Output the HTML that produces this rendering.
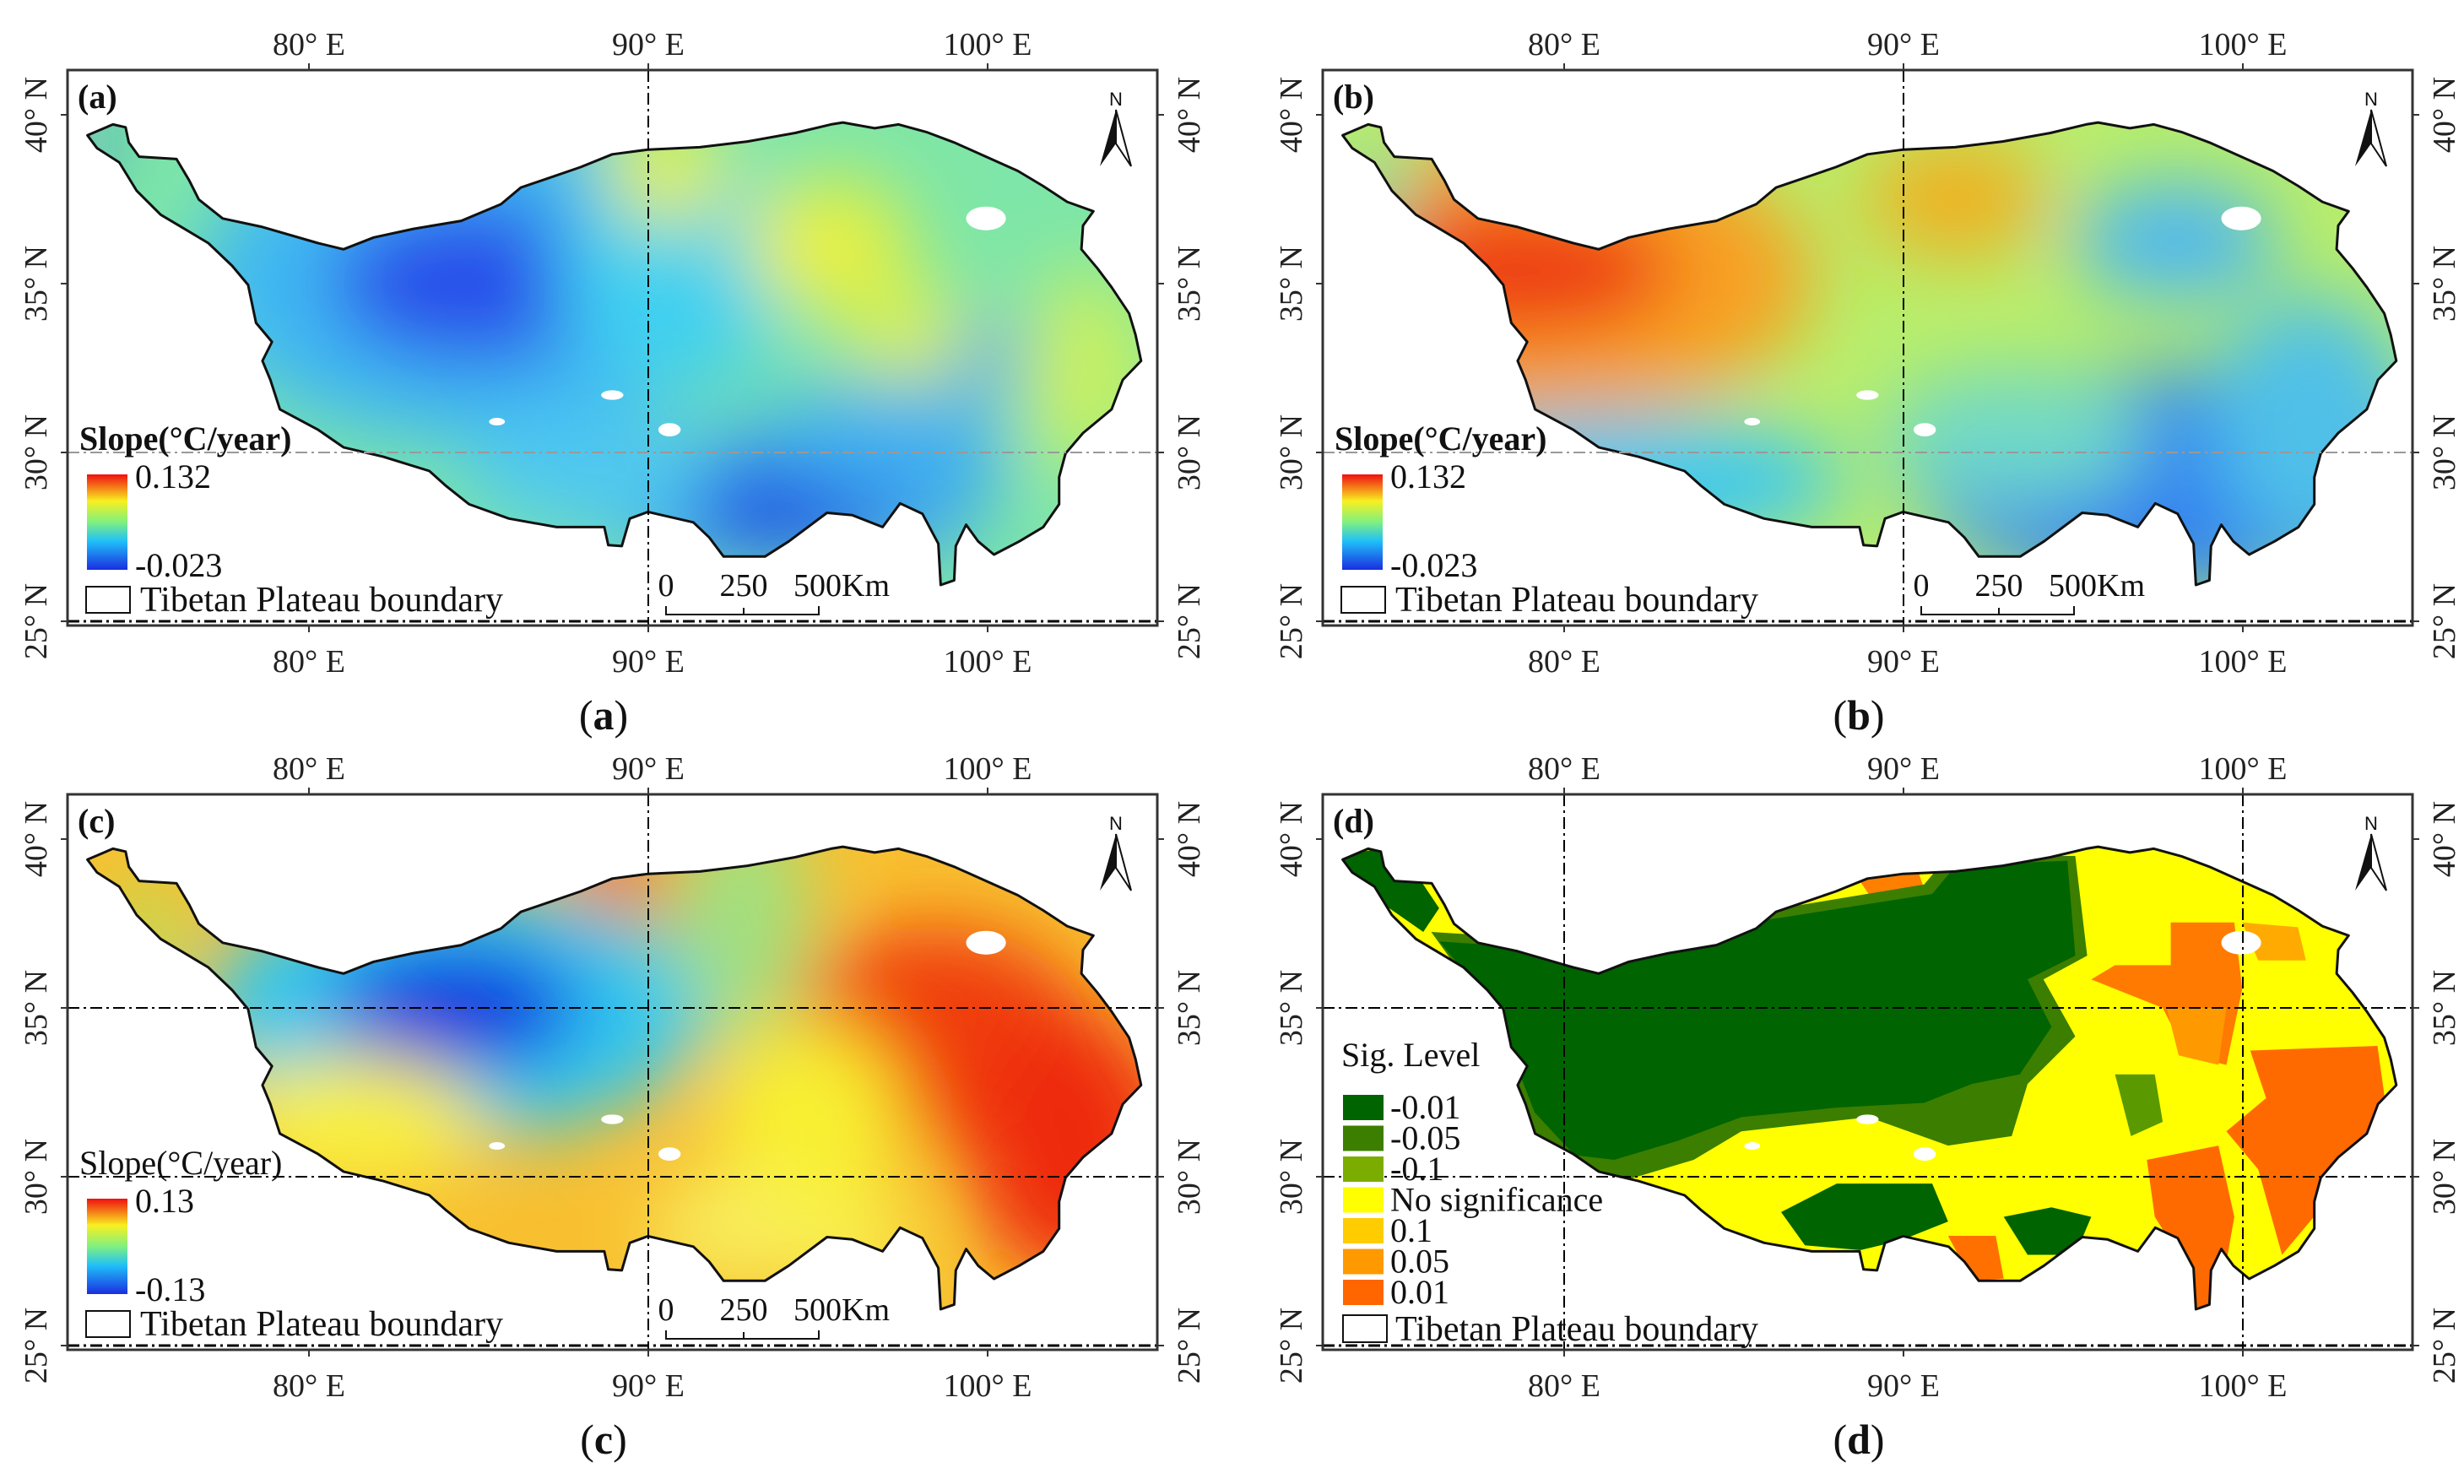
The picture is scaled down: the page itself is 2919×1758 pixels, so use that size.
<!DOCTYPE html>
<html><head><meta charset="utf-8"><style>
html,body{margin:0;padding:0;background:#fff;}
svg{display:block;font-family:"Liberation Serif",serif;}
</style></head><body>
<svg id="fig" width="2919" height="1758" viewBox="0 0 2919 1758" xmlns="http://www.w3.org/2000/svg">
<defs>
<filter id="blur" x="-50%" y="-50%" width="200%" height="200%"><feGaussianBlur stdDeviation="45"/></filter>
<linearGradient id="jet1" x1="0" y1="1" x2="0" y2="0">
<stop offset="0" stop-color="#1a2ee0"/><stop offset="0.3" stop-color="#20c0f8"/><stop offset="0.5" stop-color="#80f080"/><stop offset="0.72" stop-color="#f8f020"/><stop offset="1" stop-color="#f01010"/></linearGradient>
</defs>
</svg>
<script>
const NS="http://www.w3.org/2000/svg";
const svg=document.getElementById('fig');
function mk(tag,attrs,parent){const e=document.createElementNS(NS,tag);for(const k in attrs)e.setAttribute(k,attrs[k]);(parent||svg).appendChild(e);return e;}

const boundaryZ=[[110,285],[142,262],[158,268],[162,300],[175,330],[222,335],[238,380],[250,420],[280,460],[330,478],[400,512],[432,525],[470,500],[520,482],[580,465],[630,430],[655,395],[690,375],[730,352],[770,325],[815,315],[880,310],[940,298],[1000,280],[1045,262],[1060,258],[1100,270],[1130,262],[1165,278],[1200,300],[1240,330],[1280,360],[1312,392],[1342,425],[1375,445],[1362,475],[1360,525],[1380,565],[1398,605],[1420,660],[1428,705],[1435,760],[1412,800],[1398,862],[1362,912],[1340,955],[1332,1005],[1332,1062],[1312,1110],[1282,1140],[1250,1168],[1230,1140],[1215,1105],[1202,1150],[1200,1222],[1183,1232],[1180,1145],[1160,1082],[1132,1060],[1110,1110],[1072,1085],[1040,1080],[992,1140],[962,1172],[910,1172],[892,1132],[872,1100],[815,1078],[792,1092],[782,1150],[765,1148],[760,1110],[700,1110],[640,1092],[590,1062],[560,1022],[540,992],[482,962],[432,942],[400,905],[352,862],[340,800],[330,760],[342,720],[322,680],[312,600],[292,560],[262,512],[232,482],[202,452],[172,402],[150,342],[122,312]];
const pts=boundaryZ.map(p=>[p[0]*0.942,p[1]*0.5625]);
const ptsStr=pts.map(p=>p[0].toFixed(1)+','+p[1].toFixed(1)).join(' ');

const lonTicks=[80,90,100];
const latTicks=[40,35,30,25];
const X=lon=>768+(lon-90)*40.2;
const Y=lat=>136+(40-lat)*40;
const FL=80,FT=83,FR=1371,FB=741;

const panels=[
 {id:'a',dx:0,dy:0,base:'#7ee6a8',blobs:[[560,335,330,190,'#40b8f2'],[560,335,170,95,'#2a50ea'],[930,590,250,90,'#40a8f0'],[930,600,140,50,'#1e3ce0'],[800,320,140,140,'#40d0f0'],[790,200,70,70,'#e4f040'],[980,290,100,80,'#e8f040'],[1080,400,80,60,'#d8f050'],[1285,440,80,120,'#c8f060'],[1173,420,40,40,'#3c98f0'],[105,170,25,25,'#2040e0'],[700,560,150,70,'#50c8f0'],[1050,520,150,70,'#40b0f0']],grids:{v:[90],h:[[30,'#999'],[25,'#000']]},legend:'slope',lo:'-0.023',hi:'0.132',bold:true,scale:true},
 {id:'b',dx:1487,dy:0,base:'#b8ee6a',blobs:[[330,330,330,170,'#f8a020'],[310,320,190,80,'#ee3a18'],[830,235,110,70,'#f0b020'],[1090,285,120,70,'#50b8f0'],[1100,570,320,130,'#3080f0'],[420,570,280,80,'#40c8f0'],[900,520,160,80,'#70d8c8'],[1250,500,120,150,'#50c0e8'],[140,230,50,50,'#70e0b0']],grids:{v:[90],h:[[30,'#999'],[25,'#000']]},legend:'slope',lo:'-0.023',hi:'0.132',bold:true,scale:true},
 {id:'c',dx:0,dy:858,base:'#f8c030',blobs:[[540,340,300,150,'#30c8f0'],[540,335,150,75,'#1030e0'],[880,230,80,140,'#a0e080'],[735,175,60,50,'#f07020'],[1110,370,180,130,'#f03e10'],[1270,500,120,160,'#ee2a10'],[960,470,110,120,'#f8f030'],[420,470,150,80,'#f8f040'],[1000,620,80,60,'#f8f050'],[860,600,90,60,'#f8f060'],[170,260,40,80,'#b0e060']],grids:{v:[90],h:[[35,'#000'],[30,'#000'],[25,'#000']]},legend:'slope',lo:'-0.13',hi:'0.13',bold:false,scale:true},
 {id:'d',dx:1487,dy:858,cat:true,grids:{v:[80,100],h:[[35,'#000'],[30,'#000'],[25,'#000']]},legend:'sig'}
];

const sigLabels=['-0.01','-0.05','-0.1','No significance','0.1','0.05','0.01'];
const sigColors=['#006400','#3c7e00','#7aad00','#ffff00','#ffcc00','#ff9900','#ff6600'];

panels.forEach(P=>{
 const g=mk('g',{transform:`translate(${P.dx},${P.dy})`});
 
 
 const cp=mk('clipPath',{id:'clip'+P.id},g);
 mk('polygon',{points:ptsStr},cp);
 const map=mk('g',{'clip-path':`url(#clip${P.id})`},g);
 
 
 if(!P.cat){
  mk('rect',{x:0,y:0,width:1450,height:800,fill:P.base},map);
  const bg=mk('g',{filter:'url(#blur)'},map);
  P.blobs.forEach(b=>mk('ellipse',{cx:b[0],cy:b[1],rx:b[2],ry:b[3],fill:b[4]},bg));
 }else{
  const T=(zx,zy)=>[zx*0.942-27,zy*0.5625+21];
  const poly=(arr,fill)=>mk('polygon',{points:arr.map(p=>T(p[0],p[1]).map(v=>v.toFixed(1)).join(',')).join(' '),fill:fill},map);
  mk('rect',{x:0,y:0,width:1450,height:800,fill:'#ffff00'},map);
  poly([[1180,380],[1260,380],[1270,520],[1250,680],[1200,660],[1170,560],[1080,500],[1110,470],[1180,470]],'#ff7a00');
  poly([[1175,560],[1250,560],[1240,680],[1190,660]],'#ff9900');
  poly([[1280,650],[1440,640],[1450,760],[1400,900],[1360,1000],[1320,1080],[1290,900],[1250,820],[1300,750]],'#ff6a00');
  poly([[1150,880],[1240,850],[1260,1000],[1240,1190],[1200,1190],[1190,1080],[1160,1000]],'#ff6a00');
  poly([[900,1040],[960,1040],[970,1130],[930,1135]],'#ff7000');
  poly([[780,270],[860,260],[870,310],[800,320]],'#ff8000');
  poly([[1270,380],[1340,390],[1350,460],[1290,460]],'#ffaa00');
  poly([[250,400],[440,420],[560,380],[690,350],[870,300],[900,240],[1060,240],[1075,450],[1020,500],[1060,620],[1000,720],[980,830],[900,850],[800,790],[640,820],[580,880],[500,920],[440,920],[380,820],[330,660],[310,540]],'#3c7e00');
  poly([[260,420],[440,440],[560,400],[690,370],[880,320],[910,260],[1050,250],[1060,450],[1000,500],[1030,600],[990,700],[930,720],[870,760],[760,770],[640,790],[560,840],[480,880],[430,870],[380,780],[350,650],[330,560],[290,480]],'#006400');
  poly([[130,240],[185,225],[200,250],[240,300],[260,350],[240,400],[180,330],[150,280]],'#006400');
  poly([[690,990],[760,930],[880,930],[900,1010],[840,1050],[790,1070],[720,1060]],'#006400');
  poly([[970,1000],[1030,980],[1080,1000],[1060,1080],[1000,1080]],'#006400');
  poly([[1110,700],[1160,700],[1170,800],[1130,830]],'#5a9a00');
 }
 [[1240,460,25,25],[770,832,14,10],[625,888,10,8],[842,905,14,14]].forEach(w=>mk('ellipse',{cx:w[0]*0.942,cy:w[1]*0.5625,rx:w[2]*0.942,ry:w[3]*0.5625,fill:'#fff'},map));
 const outline=mk('polygon',{points:ptsStr,fill:'none',stroke:'#111','stroke-width':3,'stroke-linejoin':'round'},g);
 
 
 P.grids.v.forEach(lon=>{const l=mk('line',{x1:X(lon),x2:X(lon),y1:FT,y2:FB,stroke:'#000','stroke-width':2,'stroke-dasharray':'14 5 3 5'},g);
  });
 P.grids.h.forEach(h=>{const l=mk('line',{x1:FL,x2:FR,y1:Y(h[0]),y2:Y(h[0]),stroke:h[1],'stroke-width':h[0]==25?3:2,'stroke-dasharray':'14 5 3 5'},g);
  });
 const fr=mk('rect',{x:FL,y:FT,width:FR-FL,height:FB-FT,fill:'none',stroke:'#333','stroke-width':3},g);
 
 lonTicks.forEach(lon=>{
  mk('line',{x1:X(lon),x2:X(lon),y1:FT-8,y2:FT,stroke:'#333','stroke-width':2},g);
  mk('line',{x1:X(lon),x2:X(lon),y1:FB,y2:FB+8,stroke:'#333','stroke-width':2},g);
  [[65],[796]].forEach((yy,i)=>{const t=mk('text',{x:X(lon),y:yy[0],'text-anchor':'middle','font-size':38,fill:'#222'},g);t.textContent=lon+'° E';
   });
 });
 latTicks.forEach(lat=>{
  mk('line',{x1:FL-8,x2:FL,y1:Y(lat),y2:Y(lat),stroke:'#333','stroke-width':2},g);
  mk('line',{x1:FR,x2:FR+8,y1:Y(lat),y2:Y(lat),stroke:'#333','stroke-width':2},g);
  [55,1421].forEach((xx,i)=>{const t=mk('text',{x:xx,y:Y(lat),'text-anchor':'middle','font-size':38,fill:'#222',transform:`rotate(-90 ${xx} ${Y(lat)})`},g);t.textContent=lat+'° N';
   });
 });
 const tag=mk('text',{x:92,y:128,'font-size':40,'font-weight':'bold',fill:'#111'},g);tag.textContent='('+P.id+')';
 
 const na=mk('g',{},g);
 mk('polygon',{points:'1322,130 1303,197 1322,170',fill:'#111'},na);
 mk('polygon',{points:'1322,130 1340,197 1322,170',fill:'#fff',stroke:'#111','stroke-width':2},na);
 const nt=mk('text',{x:1322,y:125,'text-anchor':'middle','font-size':22,'font-family':'Liberation Sans, sans-serif',fill:'#111'},na);nt.textContent='N';
 if(P.legend==='slope'){
  const t=mk('text',{x:94,y:533,'font-size':40,'font-weight':P.bold?'bold':'normal',fill:'#111'},g);t.textContent='Slope(°C/year)';
  
  const cb=mk('rect',{x:103,y:562,width:48,height:113,fill:'url(#jet1)'},g);
  
  const h=mk('text',{x:160,y:578,'font-size':40,fill:'#111'},g);h.textContent=P.hi;
  
  const lo=mk('text',{x:160,y:683,'font-size':40,fill:'#111'},g);lo.textContent=P.lo;
  
  mk('rect',{x:102,y:695,width:52,height:31,fill:'#fff',stroke:'#111','stroke-width':2},g);
  const bt=mk('text',{x:166,y:724,'font-size':42,fill:'#111'},g);bt.textContent='Tibetan Plateau boundary';
  
 }else{
  const t=mk('text',{x:102,y:405,'font-size':40,fill:'#111'},g);t.textContent='Sig. Level';
  
  sigLabels.forEach((lab,i)=>{
   const cy=454+i*36.5;
   const r=mk('rect',{x:104,y:cy-15,width:48,height:30,fill:sigColors[i]},g);
   
   const tt=mk('text',{x:160,y:cy+13,'font-size':40,fill:'#111'},g);tt.textContent=lab;
   
  });
  mk('rect',{x:104,y:700,width:52,height:32,fill:'#fff',stroke:'#111','stroke-width':2},g);
  const bt=mk('text',{x:166,y:730,'font-size':42,fill:'#111'},g);bt.textContent='Tibetan Plateau boundary';
  
 }
 if(P.scale){
  const sb=mk('g',{},g);
  mk('polyline',{points:'789,718 789,728 970,728 970,718',fill:'none',stroke:'#111','stroke-width':2},sb);
  mk('line',{x1:881,x2:881,y1:720,y2:728,stroke:'#111','stroke-width':2},sb);
  [['0',789],['250',881],['500Km',940]].forEach(s=>{const t=mk('text',{x:s[1],y:706,'text-anchor':s[0]==='500Km'?'start':'middle','font-size':38,fill:'#111'},sb);t.textContent=s[0];});
 }
 const cap=mk('text',{x:715,y:864,'text-anchor':'middle','font-size':50,fill:'#111'},g);
 
 cap.appendChild(document.createTextNode('('));
 const b=mk('tspan',{'font-weight':'bold'},cap);b.textContent=P.id;
 cap.appendChild(document.createTextNode(')'));
});
</script>
</body></html>
